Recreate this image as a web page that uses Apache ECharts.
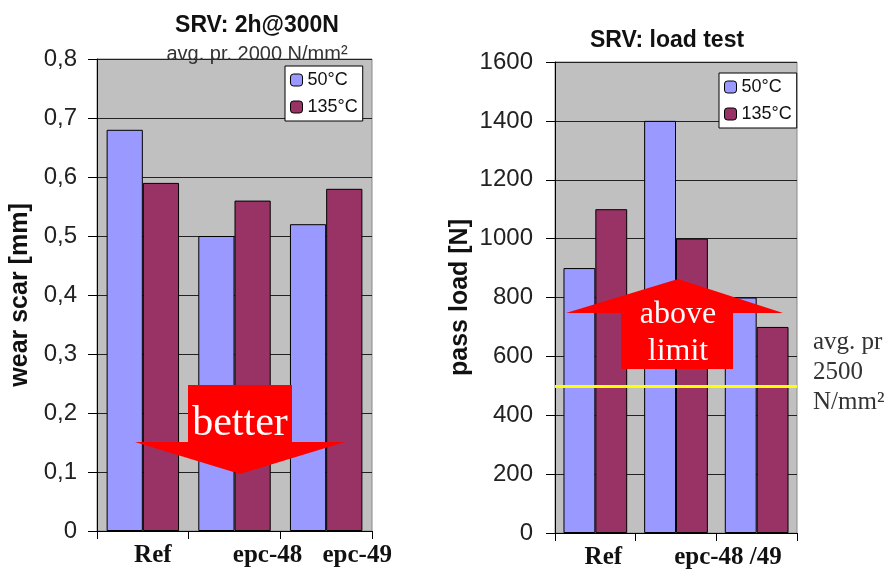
<!DOCTYPE html>
<html>
<head>
<meta charset="utf-8">
<script src="https://cdn.jsdelivr.net/npm/echarts@6/dist/echarts.min.js"></script>
<style>
  html, body { margin: 0; padding: 0; background: #fff; }
  #chart { width: 896px; height: 572px; }
</style>
</head>
<body>
<div id="chart"></div>
<script>
// left: wear scar
const wearCats = ['Ref', 'epc-48', 'epc-49']
const wear50 = [0.68, 0.50, 0.52]
const wear135 = [0.59, 0.56, 0.58]
// right: load test
const loadCats = ['Ref', 'epc-48', 'epc-49']
const loadLabels = ['Ref', 'epc-48 /49', '']
const load50 = [900, 1400, 800]
const load135 = [1100, 1000, 700]
const loadLimit = 500
const seriesNames = ['50°C', '135°C']

const BLUE = '#9999ff'
const MAROON = '#993366'
const SANS = 'Liberation Sans, Arial, sans-serif'
const SERIF = 'Liberation Serif, Times New Roman, serif'

const chart = echarts.init(document.getElementById('chart'))

function catAxis(gridIndex, cats, labels, shifts) {
  return {
    type: 'category',
    gridIndex,
    data: cats.map((c, i) => ({
      value: c,
      textStyle: { padding: [0, 0, 0, shifts[i] * 2] }
    })),
    axisLine: { lineStyle: { color: '#000', width: 1 } },
    axisTick: { show: true, length: 8, lineStyle: { color: '#000' } },
    axisLabel: {
      interval: 0,
      margin: 12,
      fontFamily: SERIF,
      fontWeight: 'bold',
      fontSize: 25,
      color: '#111',
      formatter: (v, i) => labels[i]
    }
  }
}

function valAxis(gridIndex, max, interval, name, nameGap, margin, fmt) {
  return {
    type: 'value',
    gridIndex,
    min: 0,
    max,
    interval,
    name,
    nameLocation: 'middle',
    nameRotate: 90,
    nameGap,
    nameTextStyle: { fontFamily: SANS, fontWeight: 'bold', fontSize: 25, color: '#111' },
    axisLine: { show: true, lineStyle: { color: '#000', width: 1 } },
    axisTick: { show: true, length: 9, lineStyle: { color: '#000' } },
    axisLabel: { margin, fontFamily: SANS, fontSize: 24, color: '#222', formatter: fmt },
    splitLine: { lineStyle: { color: '#222', width: 1 } }
  }
}

function legend(left, top) {
  return {
    orient: 'vertical',
    left,
    top,
    data: seriesNames,
    backgroundColor: '#fff',
    borderColor: '#000',
    borderWidth: 1,
    padding: [5, 5, 5, 5],
    itemWidth: 12,
    itemHeight: 12,
    itemGap: 9,
    itemStyle: { borderColor: '#000', borderWidth: 1 },
    textStyle: { fontFamily: SANS, fontSize: 18, color: '#111' }
  }
}

function bars(name, data, color, xi, yi, extra) {
  return Object.assign({
    name,
    type: 'bar',
    xAxisIndex: xi,
    yAxisIndex: yi,
    data,
    barGap: '0%',
    barCategoryGap: '21%',
    itemStyle: { color, borderColor: '#000', borderWidth: 1 }
  }, extra || {})
}

chart.setOption({
  animation: false,
  title: [
    { text: 'SRV: 2h@300N', left: 252, top: 9, textAlign: 'center',
      textStyle: { fontFamily: SANS, fontWeight: 'bold', fontSize: 23, color: '#111' } },
    { text: 'avg. pr. 2000 N/mm²', left: 252, top: 39, textAlign: 'center',
      textStyle: { fontFamily: SANS, fontWeight: 'normal', fontSize: 20, color: '#333' } },
    { text: 'SRV: load test', left: 662, top: 24, textAlign: 'center',
      textStyle: { fontFamily: SANS, fontWeight: 'bold', fontSize: 23, color: '#111' } }
  ],
  grid: [
    { left: 97, top: 59, width: 275, height: 472, show: true, backgroundColor: '#c0c0c0', borderColor: '#888', borderWidth: 1 },
    { left: 555, top: 62, width: 242, height: 471, show: true, backgroundColor: '#c0c0c0', borderColor: '#888', borderWidth: 1 }
  ],
  legend: [legend(285, 66), legend(719, 73)],
  xAxis: [
    catAxis(0, wearCats, wearCats, [10, 33, 31]),
    catAxis(1, loadCats, loadLabels, [8, 52, 0])
  ],
  yAxis: [
    valAxis(0, 0.8, 0.1, 'wear scar [mm]', 64, 20, v => v === 0 ? '0' : v.toFixed(1).replace('.', ',')),
    valAxis(1, 1600, 200, 'pass load [N]', 82, 22, v => String(v))
  ],
  series: [
    bars(seriesNames[0], wear50, BLUE, 0, 0),
    bars(seriesNames[1], wear135, MAROON, 0, 0),
    bars(seriesNames[0], load50, BLUE, 1, 1),
    bars(seriesNames[1], load135, MAROON, 1, 1, {
      markLine: {
        silent: true,
        symbol: 'none',
        label: { show: false },
        lineStyle: { color: '#ffff00', width: 3, type: 'solid' },
        data: [{ yAxis: loadLimit }]
      }
    })
  ],
  graphic: [
    // "better" arrow (left chart)
    { type: 'polygon', z: 100,
      shape: { points: [[188, 385], [292, 385], [292, 442], [345, 442], [240, 474], [135, 442], [188, 442]] },
      style: { fill: '#ff0000' } },
    { type: 'text', z: 101, x: 240, y: 424,
      style: { text: 'better', fill: '#fff', font: '42px ' + SERIF, textAlign: 'center', textVerticalAlign: 'middle' } },
    // "above limit" arrow (right chart)
    { type: 'polygon', z: 100,
      shape: { points: [[678, 279], [783, 313], [733, 313], [733, 369], [621, 369], [621, 313], [566, 313]] },
      style: { fill: '#ff0000' } },
    { type: 'text', z: 101, x: 678, y: 315,
      style: { text: 'above', fill: '#fff', font: '32px ' + SERIF, textAlign: 'center', textVerticalAlign: 'middle' } },
    { type: 'text', z: 101, x: 678, y: 352,
      style: { text: 'limit', fill: '#fff', font: '32px ' + SERIF, textAlign: 'center', textVerticalAlign: 'middle' } },
    // limit note
    { type: 'text', z: 101, x: 813, y: 327,
      style: { text: 'avg. pr\n2500\nN/mm²', fill: '#333', font: '25px ' + SERIF, lineHeight: 30, textAlign: 'left' } }
  ]
})
</script>
</body>
</html>
